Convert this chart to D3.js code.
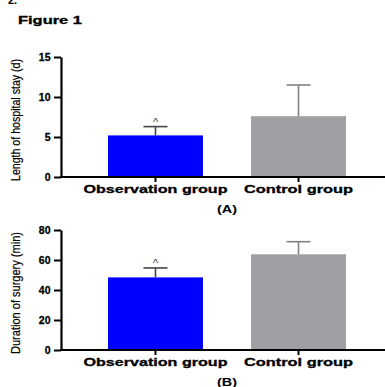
<!DOCTYPE html>
<html>
<head>
<meta charset="utf-8">
<script src="https://cdn.jsdelivr.net/npm/d3@7"></script>
<style>
body { margin: 0; background: #fff; }
text { font-family: "Liberation Sans", Arial, sans-serif; }
</style>
</head>
<body>
<div id="svg"></div>
<script>
let groups = ['Observation group', 'Control group']
let stayMeans = [5.2, 7.6]
let staySd = [1.1, 3.9]
let surgeryMeans = [48.4, 63.8]
let surgerySd = [6.3, 8.4]
let stayTicks = [0, 5, 10, 15]
let surgeryTicks = [0, 20, 40, 60, 80]
let colors = ['#0000ff', '#a09fa3']
let errColors = ['#444444', '#808080']

let width = 385, height = 387

let svg = d3.select('#svg')
.append('svg')
.attr('width', width)
.attr('height', height)

// panel letter, partly cut off at the top as in the source image
svg.append('text')
.text('2.')
.attr('x', 8)
.attr('y', 4)
.style('font-size', 11)
.style('font-weight', 'bold')

svg.append('text')
.text('Figure 1')
.attr('x', 18)
.attr('y', 24)
.attr('textLength', 64)
.attr('lengthAdjust', 'spacingAndGlyphs')
.style('font-size', 10)
.style('font-weight', 'bold')
.style('stroke', '#000')
.style('stroke-width', 0.3)

let xScale = d3.scaleBand()
.domain(groups)
.range([108, 346])
.paddingInner(0.336)
.paddingOuter(0)

function drawPanel(opts) {
	let yScale = d3.scaleLinear()
	.domain([0, opts.max])
	.range([opts.bottom, opts.top])

	let g = svg.append('g')

	g.selectAll('.bar')
	.data(opts.means)
	.join('rect')
	.attr('class', 'bar')
	.attr('x', (d, i) => xScale(groups[i]))
	.attr('width', xScale.bandwidth())
	.attr('y', d => yScale(d))
	.attr('height', d => yScale(0) - yScale(d))
	.style('fill', (d, i) => colors[i])

	let errs = g.selectAll('.err')
	.data(opts.means)
	.join('g')
	.attr('class', 'err')
	.style('stroke', (d, i) => errColors[i])
	.style('stroke-width', 1.6)

	errs.append('line')
	.attr('x1', (d, i) => xScale(groups[i]) + xScale.bandwidth() / 2)
	.attr('x2', (d, i) => xScale(groups[i]) + xScale.bandwidth() / 2)
	.attr('y1', d => yScale(d))
	.attr('y2', (d, i) => yScale(d + opts.sd[i]))

	errs.append('line')
	.attr('x1', (d, i) => xScale(groups[i]) + xScale.bandwidth() / 2 - 12)
	.attr('x2', (d, i) => xScale(groups[i]) + xScale.bandwidth() / 2 + 12)
	.attr('y1', (d, i) => yScale(d + opts.sd[i]))
	.attr('y2', (d, i) => yScale(d + opts.sd[i]))

	// significance mark over observation group
	g.append('text')
	.text('^')
	.attr('x', xScale(groups[0]) + xScale.bandwidth() / 2)
	.attr('y', yScale(opts.means[0] + opts.sd[0]) - 1)
	.style('text-anchor', 'middle')
	.style('font-size', 11)
	.style('fill', '#333')

	let yAxis = g.append('g')
	.attr('transform', 'translate(61, 0)')
	.call(d3.axisLeft(yScale).tickValues(opts.ticks).tickSize(7).tickSizeOuter(0))
	yAxis.select('.domain').style('stroke-width', 2.2)
	yAxis.selectAll('.tick line').style('stroke-width', 2)
	yAxis.selectAll('.tick text')
	.attr('x', -10)
	.attr('letter-spacing', 0.3)
	.style('font-size', 10.5)
	.style('font-weight', 'bold')
	.style('font-family', '"Liberation Sans", Arial, sans-serif')
	.style('stroke', '#000')
	.style('stroke-width', 0.3)

	g.append('line')
	.attr('x1', 60)
	.attr('x2', 385)
	.attr('y1', yScale(0))
	.attr('y2', yScale(0))
	.style('stroke', '#000')
	.style('stroke-width', 2)

	let xAxis = g.append('g')
	.attr('transform', `translate(0, ${yScale(0)})`)
	.call(d3.axisBottom(xScale).tickSize(5).tickSizeOuter(0))
	xAxis.select('.domain').remove()
	xAxis.selectAll('.tick line').style('stroke-width', 2)
	xAxis.selectAll('.tick text')
	.attr('y', 8)
	.attr('textLength', (d, i) => [144, 109][i])
	.attr('lengthAdjust', 'spacingAndGlyphs')
	.style('font-size', 11)
	.style('font-weight', 'bold')
	.style('font-family', '"Liberation Sans", Arial, sans-serif')
	.style('stroke', '#000')
	.style('stroke-width', 0.3)

	g.append('text')
	.text(opts.yLabel)
	.attr('transform', `translate(20, ${(opts.top + opts.bottom) / 2 + 3})rotate(-90)`)
	.attr('textLength', 122)
	.attr('lengthAdjust', 'spacingAndGlyphs')
	.style('text-anchor', 'middle')
	.style('font-size', 12)
	.style('stroke', '#000')
	.style('stroke-width', 0.2)

	g.append('text')
	.text(opts.caption)
	.attr('x', 227)
	.attr('y', opts.bottom + 36)
	.attr('textLength', 20)
	.attr('lengthAdjust', 'spacingAndGlyphs')
	.style('text-anchor', 'middle')
	.style('font-size', 10)
	.style('font-weight', 'bold')
}

drawPanel({means: stayMeans, sd: staySd, max: 15, ticks: stayTicks, top: 57, bottom: 177,
	yLabel: 'Length of hospital stay (d)', caption: '(A)'})
drawPanel({means: surgeryMeans, sd: surgerySd, max: 80, ticks: surgeryTicks, top: 230, bottom: 350,
	yLabel: 'Duration of surgery (min)', caption: '(B)'})
</script>
</body>
</html>
